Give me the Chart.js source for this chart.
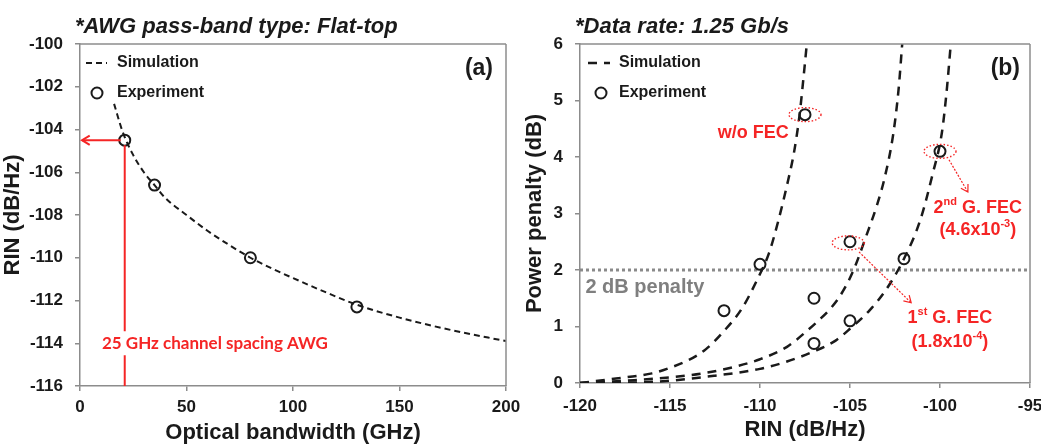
<!DOCTYPE html>
<html>
<head>
<meta charset="utf-8">
<script src="https://cdn.jsdelivr.net/npm/chart.js@4.4.1/dist/chart.umd.min.js"></script>
<style>
  html, body { margin: 0; padding: 0; background: #fff; overflow: hidden; }
  #wrap { position: relative; width: 1041px; height: 446px; overflow: hidden; }
  #chart-a { position: absolute; left: 0; top: 0; }
  #chart-b { position: absolute; left: 520px; top: 0; }
</style>
</head>
<body>
<div id="wrap">
  <canvas id="chart-a" width="540" height="446"></canvas>
  <canvas id="chart-b" width="560" height="446"></canvas>
</div>
<script>
'use strict';

// ── Data (a): RIN vs optical bandwidth ────────────────────────────────────────
const simBw    = [16, 20, 25, 30, 35, 40, 50, 60, 70, 80, 90, 100, 115, 130, 150, 175, 200];
const simRin   = [-102.8, -104.1, -105.2, -106.0, -106.6, -107.2, -108.0, -108.75, -109.4, -110.0, -110.5, -110.95, -111.6, -112.2, -112.8, -113.4, -113.9];
const expBw    = [21, 35, 80, 130];
const expRin   = [-104.5, -106.6, -110.0, -112.3];
const bwTicks  = [0, 50, 100, 150, 200];
const rinTicks = [-116, -114, -112, -110, -108, -106, -104, -102, -100];

// ── Data (b): power penalty vs RIN ────────────────────────────────────────────
const noFecRin = [-120, -118, -116, -115, -114, -113, -112, -111, -110.2, -109.5, -109, -108.5, -108.1, -107.8, -107.6, -107.4];
const noFecPen = [0, 0.08, 0.17, 0.27, 0.4, 0.6, 0.92, 1.32, 1.8, 2.3, 2.85, 3.5, 4.1, 4.75, 5.35, 6.0];
const fec1Rin  = [-120, -117, -115, -113, -111.5, -110, -108.5, -107.4, -106.7, -106, -105.4, -104.8, -104.1, -103.5, -103.1, -102.6, -102.3, -102.1];
const fec1Pen  = [0, 0.05, 0.1, 0.18, 0.28, 0.42, 0.64, 0.92, 1.12, 1.35, 1.62, 2.0, 2.6, 3.15, 3.6, 4.4, 5.2, 6.0];
const fec2Rin  = [-120, -116, -112.5, -110, -108.5, -107, -105.8, -105, -103.9, -103, -102, -101.1, -100.4, -99.9, -99.65, -99.4];
const fec2Pen  = [0, 0.02, 0.13, 0.25, 0.38, 0.56, 0.75, 0.96, 1.29, 1.65, 2.2, 2.88, 3.71, 4.42, 5.1, 6.0];
const expRinB  = [-112, -110, -107.5, -107, -107, -105, -105, -102, -100];
const expPenB  = [1.28, 2.1, 4.75, 1.5, 0.7, 2.5, 1.1, 2.2, 4.1];
const limitRin = [-120, -95];
const limitPen = [2, 2];
const rinTicksB = [-120, -115, -110, -105, -100, -95];
const penTicks  = [0, 1, 2, 3, 4, 5, 6];

// ── Style ─────────────────────────────────────────────────────────────────────
const FAM  = "'Liberation Sans', Arial, sans-serif";
const INK  = '#1a1a1a';
const AXIS = '#8c8c8c';
const RED  = '#f52525';
const TICK_FONT  = { family: FAM, size: 17, weight: 'bold' };
const TITLE_FONT = { family: FAM, size: 22, weight: 'bold' };

Chart.defaults.font.family = FAM;

const xy = (xs, ys) => xs.map((x, i) => ({ x, y: ys[i] }));

function simSet(xs, ys, dash, lw) {
  return {
    data: xy(xs, ys), showLine: true, borderColor: INK, borderWidth: lw,
    borderDash: dash, pointRadius: 0, cubicInterpolationMode: 'monotone', fill: false,
  };
}
function expSet(xs, ys) {
  return {
    data: xy(xs, ys), showLine: false, pointRadius: 5.5, pointBorderWidth: 2,
    pointBorderColor: INK, pointBackgroundColor: 'rgba(0,0,0,0)',
  };
}
function axis(min, max, ticks, title, fit, opts) {
  return {
    type: 'linear', min, max,
    afterBuildTicks: s => { s.ticks = ticks.map(v => ({ value: v })); },
    afterFit: fit,
    grid:   { drawOnChartArea: false, drawTicks: true, tickLength: 5, color: AXIS, lineWidth: 1.5 },
    border: { color: AXIS, width: 1.5 },
    ticks:  { font: TICK_FONT, color: INK, padding: opts.pad, autoSkip: false, maxRotation: 0 },
    title:  { display: true, text: title, font: TITLE_FONT, color: INK, padding: opts.titlePad },
  };
}

// ── Drawing helpers ───────────────────────────────────────────────────────────
function seg(ctx, x1, y1, x2, y2) {
  ctx.beginPath(); ctx.moveTo(x1, y1); ctx.lineTo(x2, y2); ctx.stroke();
}
function arrowHead(ctx, x, y, ang, size) {
  ctx.beginPath();
  ctx.moveTo(x + size * Math.cos(ang + 2.6), y + size * Math.sin(ang + 2.6));
  ctx.lineTo(x, y);
  ctx.lineTo(x + size * Math.cos(ang - 2.6), y + size * Math.sin(ang - 2.6));
  ctx.stroke();
}
function frame(ctx, ca) {
  ctx.save();
  ctx.strokeStyle = AXIS; ctx.lineWidth = 1.5;
  seg(ctx, ca.left, ca.top, ca.right, ca.top);
  seg(ctx, ca.right, ca.top, ca.right, ca.bottom);
  ctx.restore();
}
function legend(ctx, ca, o) {
  ctx.save();
  const r1 = ca.top + 19, r2 = ca.top + 49;
  ctx.strokeStyle = INK; ctx.lineWidth = o.lw; ctx.setLineDash(o.dash);
  seg(ctx, ca.left + o.s0, r1, ca.left + o.s1, r1);
  ctx.setLineDash([]); ctx.lineWidth = 2;
  ctx.beginPath(); ctx.arc(ca.left + o.c, r2, 5.5, 0, Math.PI * 2); ctx.stroke();
  ctx.fillStyle = INK; ctx.font = `bold 16px ${ FAM }`;
  ctx.textBaseline = 'middle'; ctx.textAlign = 'left';
  ctx.fillText('Simulation', ca.left + o.t, r1);
  ctx.fillText('Experiment', ca.left + o.t, r2);
  ctx.restore();
}
function heading(ctx, text, x, tag, ca, tagInset) {
  ctx.save();
  ctx.fillStyle = INK; ctx.textBaseline = 'middle';
  ctx.font = `italic bold 22px ${ FAM }`; ctx.textAlign = 'left';
  ctx.fillText(text, x, 27);
  ctx.font = `bold 23px ${ FAM }`; ctx.textAlign = 'right';
  ctx.fillText(tag, ca.right - tagInset, ca.top + 25);
  ctx.restore();
}
// text with a superscript part, centred at cx
function supText(ctx, parts, cx, cy) {
  const big = `bold 18px ${ FAM }`, small = `bold 11px ${ FAM }`;
  let w = 0;
  parts.forEach(([t, sup]) => { ctx.font = sup ? small : big; w += ctx.measureText(t).width; });
  let x = cx - w / 2;
  ctx.textAlign = 'left'; ctx.textBaseline = 'middle';
  parts.forEach(([t, sup]) => {
    ctx.font = sup ? small : big;
    ctx.fillText(t, x, sup ? cy - 6 : cy);
    x += ctx.measureText(t).width;
  });
}
function dottedEllipse(ctx, x, y) {
  ctx.save();
  ctx.strokeStyle = RED; ctx.lineWidth = 1.4; ctx.setLineDash([1.5, 2]);
  ctx.beginPath(); ctx.ellipse(x, y, 16, 7, 0, 0, Math.PI * 2); ctx.stroke();
  ctx.restore();
}
function dottedArrow(ctx, x1, y1, x2, y2) {
  ctx.save();
  ctx.strokeStyle = RED; ctx.lineWidth = 1.2; ctx.setLineDash([2, 1.5]);
  seg(ctx, x1, y1, x2, y2);
  ctx.setLineDash([]);
  arrowHead(ctx, x2, y2, Math.atan2(y2 - y1, x2 - x1), 8);
  ctx.restore();
}

// ── Panel (a) overlay ─────────────────────────────────────────────────────────
const overlayA = {
  id: 'overlayA',
  afterDatasetsDraw(chart) {
    const { ctx, chartArea: ca, scales: { x, y } } = chart;
    const px = x.getPixelForValue(expBw[0]), py = y.getPixelForValue(expRin[0]);
    ctx.save();
    ctx.strokeStyle = RED; ctx.lineWidth = 2;
    seg(ctx, px - 4, py, ca.left + 2, py);
    arrowHead(ctx, ca.left + 2, py, Math.PI, 9);
    seg(ctx, px, py + 5, px, ca.bottom);
    // label, on a white box that breaks the marker line
    ctx.font = "bold 17px Lato, 'Open Sans', sans-serif";
    const label = '25 GHz channel spacing AWG';
    const lx = x.getPixelForValue(10.3), ly = y.getPixelForValue(-114);
    const w = ctx.measureText(label).width;
    ctx.fillStyle = '#fff'; ctx.fillRect(lx - 2, ly - 12, w + 4, 24);
    ctx.fillStyle = RED; ctx.textBaseline = 'middle'; ctx.textAlign = 'left';
    ctx.fillText(label, lx, ly);
    ctx.restore();
  },
  afterDraw(chart) {
    const { ctx, chartArea: ca } = chart;
    frame(ctx, ca);
    legend(ctx, ca, { s0: 6, s1: 27, c: 17, t: 37, dash: [6, 4], lw: 2 });
    heading(ctx, '*AWG pass-band type: Flat-top', 75, '(a)', ca, 13);
  },
};

// ── Panel (b) overlay ─────────────────────────────────────────────────────────
const overlayB = {
  id: 'overlayB',
  afterDatasetsDraw(chart) {
    const { ctx, scales: { x, y } } = chart;
    const P = (vx, vy) => [x.getPixelForValue(vx), y.getPixelForValue(vy)];
    ctx.save();
    // "2 dB penalty"
    ctx.fillStyle = '#7f7f7f'; ctx.font = `bold 20px ${ FAM }`;
    ctx.textAlign = 'left'; ctx.textBaseline = 'middle';
    ctx.fillText('2 dB penalty', ...P(-119.7, 1.69));

    // circled experiment points
    dottedEllipse(ctx, ...P(expRinB[2], expPenB[2]));
    dottedEllipse(ctx, ...P(expRinB[8], expPenB[8]));
    dottedEllipse(ctx, ...P(expRinB[5] - 0.1, expPenB[5] - 0.02));

    dottedArrow(ctx, ...P(-99.5, 3.95), ...P(-98.45, 3.38));
    dottedArrow(ctx, ...P(-104.5, 2.32), ...P(-101.6, 1.42));

    ctx.fillStyle = RED;
    ctx.font = `bold 18px ${ FAM }`; ctx.textAlign = 'right'; ctx.textBaseline = 'middle';
    ctx.fillText('w/o FEC', ...P(-108.4, 4.42));
    supText(ctx, [['2'], ['nd', true], [' G. FEC']], ...P(-97.9, 3.1));
    supText(ctx, [['(4.6x10'], ['-3', true], [')']], ...P(-97.9, 2.71));
    supText(ctx, [['1'], ['st', true], [' G. FEC']], ...P(-99.45, 1.15));
    supText(ctx, [['(1.8x10'], ['-4', true], [')']], ...P(-99.45, 0.73));
    ctx.restore();
  },
  afterDraw(chart) {
    const { ctx, chartArea: ca } = chart;
    frame(ctx, ca);
    legend(ctx, ca, { s0: 8, s1: 30, c: 21, t: 39, dash: [9, 7], lw: 2.5 });
    heading(ctx, '*Data rate: 1.25 Gb/s', 55, '(b)', ca, 10);
  },
};

// ── Charts ────────────────────────────────────────────────────────────────────
const common = {
  responsive: false,
  animation: false,
  events: [],
  plugins: { legend: { display: false }, tooltip: { enabled: false } },
};

new Chart(document.getElementById('chart-a'), {
  type: 'scatter',
  data: {
    datasets: [
      expSet(expBw, expRin),
      simSet(simBw, simRin, [6, 4], 2),
    ],
  },
  options: {
    ...common,
    layout: { padding: { top: 44, right: 34, left: 0, bottom: 0 } },
    scales: {
      x: axis(0, 200, bwTicks, 'Optical bandwidth (GHz)', s => { s.height = 60; }, { pad: 6, titlePad: 0 }),
      y: axis(-116, -100, rinTicks, 'RIN (dB/Hz)', s => { s.width = 80; }, { pad: 12, titlePad: 0 }),
    },
  },
  plugins: [overlayA],
});

new Chart(document.getElementById('chart-b'), {
  type: 'scatter',
  data: {
    datasets: [
      expSet(expRinB, expPenB),
      simSet(noFecRin, noFecPen, [9, 7], 2.5),
      simSet(fec1Rin, fec1Pen, [9, 7], 2.5),
      simSet(fec2Rin, fec2Pen, [9, 7], 2.5),
      {
        data: xy(limitRin, limitPen), showLine: true, borderColor: '#8a8a8a',
        borderWidth: 3, borderDash: [3, 3], pointRadius: 0,
      },
    ],
  },
  options: {
    ...common,
    layout: { padding: { top: 44, right: 50, left: 0, bottom: 0 } },
    scales: {
      x: axis(-120, -95, rinTicksB, 'RIN (dB/Hz)', s => { s.height = 63; }, { pad: 8, titlePad: 3 }),
      y: axis(0, 6, penTicks, 'Power penalty (dB)', s => { s.width = 60; }, { pad: 12, titlePad: 2 }),
    },
  },
  plugins: [overlayB],
});
</script>
</body>
</html>
